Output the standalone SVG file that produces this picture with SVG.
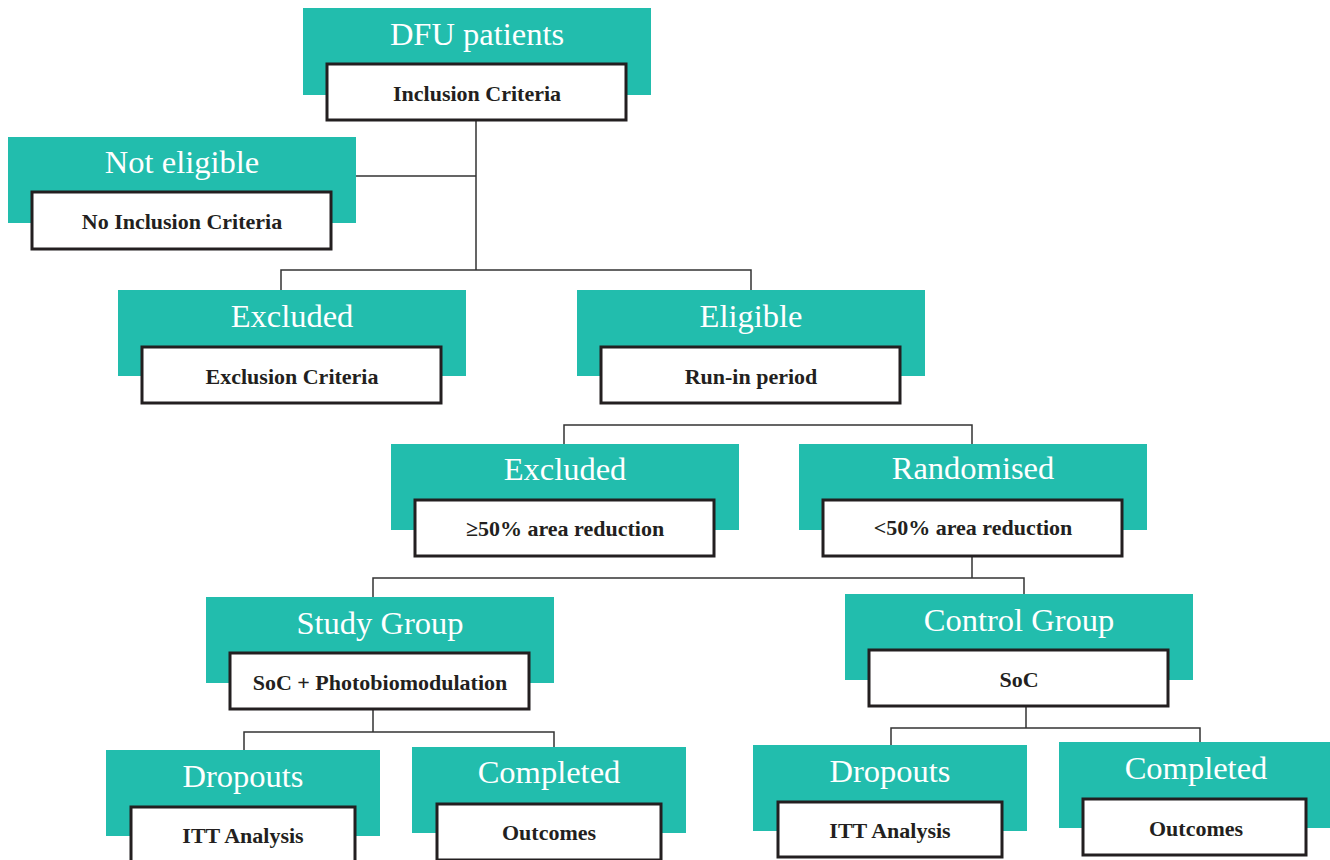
<svg xmlns="http://www.w3.org/2000/svg" width="1330" height="860" viewBox="0 0 1330 860">
<style>
.bg{fill:#ffffff}
.teal{fill:#22BDAD}
.box{fill:#ffffff;stroke:#231F20;stroke-width:3}
.title{font-family:"Liberation Serif","DejaVu Serif",serif;font-size:32.5px;fill:#ffffff;text-anchor:middle}
.sub{font-family:"Liberation Serif","DejaVu Serif",serif;font-size:22px;font-weight:bold;fill:#231F20;text-anchor:middle}
.conn{fill:none;stroke:#333333;stroke-width:1.5}
</style>
<rect class="bg" x="0" y="0" width="1330" height="860"/>
<g id="connectors">
<path class="conn" d="M476 121 V270 M356 176 H476 M281 290 V270 H751 V290"/>
<path class="conn" d="M564 444 V425 H972 V444"/>
<path class="conn" d="M972 557 V578 M373 597 V578 H1024 V594"/>
<path class="conn" d="M373 710 V732 M244 750 V732 H554 V747"/>
<path class="conn" d="M1026 707 V728 M891 745 V728 H1200 V742"/>
</g>
<g id="dfu">
<rect class="teal" x="303" y="8" width="348" height="87"/>
<rect class="box" x="327" y="64" width="299" height="56"/>
<text class="title" x="477" y="45">DFU patients</text>
<text class="sub" x="477" y="101">Inclusion Criteria</text>
</g>
<g id="noteligible">
<rect class="teal" x="8" y="137" width="348" height="86"/>
<rect class="box" x="32" y="192" width="299" height="57"/>
<text class="title" x="182" y="173">Not eligible</text>
<text class="sub" x="182" y="229">No Inclusion Criteria</text>
</g>
<g id="excluded1">
<rect class="teal" x="118" y="290" width="348" height="86"/>
<rect class="box" x="142" y="347" width="299" height="56"/>
<text class="title" x="292" y="327">Excluded</text>
<text class="sub" x="292" y="384">Exclusion Criteria</text>
</g>
<g id="eligible">
<rect class="teal" x="577" y="290" width="348" height="86"/>
<rect class="box" x="601" y="347" width="299" height="56"/>
<text class="title" x="751" y="327">Eligible</text>
<text class="sub" x="751" y="384">Run-in period</text>
</g>
<g id="excluded2">
<rect class="teal" x="391" y="444" width="348" height="86"/>
<rect class="box" x="415" y="500" width="299" height="56"/>
<text class="title" x="565" y="480">Excluded</text>
<text class="sub" x="565" y="536">≥50% area reduction</text>
</g>
<g id="randomised">
<rect class="teal" x="799" y="444" width="348" height="86"/>
<rect class="box" x="823" y="500" width="299" height="56"/>
<text class="title" x="973" y="479">Randomised</text>
<text class="sub" x="973" y="535">&lt;50% area reduction</text>
</g>
<g id="study">
<rect class="teal" x="206" y="597" width="348" height="86"/>
<rect class="box" x="230" y="653" width="299" height="56"/>
<text class="title" x="380" y="634">Study Group</text>
<text class="sub" x="380" y="690">SoC + Photobiomodulation</text>
</g>
<g id="control">
<rect class="teal" x="845" y="594" width="348" height="86"/>
<rect class="box" x="869" y="650" width="299" height="56"/>
<text class="title" x="1019" y="631">Control Group</text>
<text class="sub" x="1019" y="687">SoC</text>
</g>
<g id="dropouts1">
<rect class="teal" x="106" y="750" width="274" height="86"/>
<rect class="box" x="131" y="807" width="224" height="56"/>
<text class="title" x="243" y="787">Dropouts</text>
<text class="sub" x="243" y="843">ITT Analysis</text>
</g>
<g id="completed1">
<rect class="teal" x="412" y="747" width="274" height="86"/>
<rect class="box" x="437" y="804" width="224" height="56"/>
<text class="title" x="549" y="783">Completed</text>
<text class="sub" x="549" y="840">Outcomes</text>
</g>
<g id="dropouts2">
<rect class="teal" x="753" y="745" width="274" height="86"/>
<rect class="box" x="778" y="802" width="224" height="55"/>
<text class="title" x="890" y="782">Dropouts</text>
<text class="sub" x="890" y="838">ITT Analysis</text>
</g>
<g id="completed2">
<rect class="teal" x="1059" y="742" width="271" height="86"/>
<rect class="box" x="1083" y="799" width="223" height="56"/>
<text class="title" x="1196" y="779">Completed</text>
<text class="sub" x="1196" y="836">Outcomes</text>
</g>
</svg>
